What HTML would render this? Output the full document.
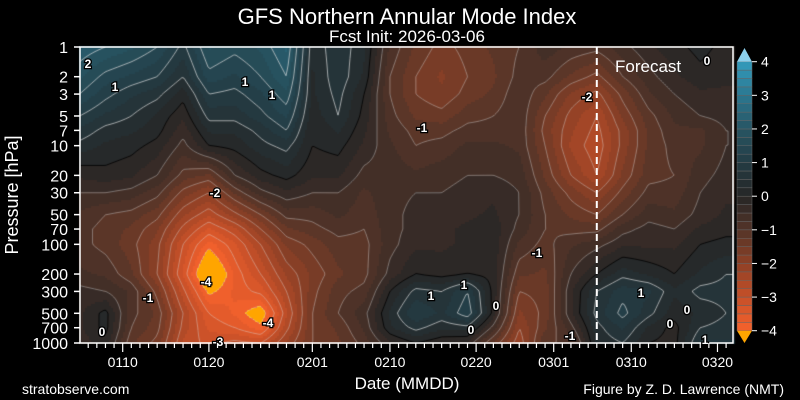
<!DOCTYPE html>
<html><head><meta charset="utf-8"><style>
html,body{margin:0;padding:0;background:#000;}
#wrap{position:relative;width:800px;height:400px;overflow:hidden;background:#000;font-family:"Liberation Sans",sans-serif;}
canvas,svg{position:absolute;left:0;top:0;}
</style></head><body>
<div id="wrap">
<canvas id="cv" width="800" height="400"></canvas>
<svg id="sv" width="800" height="400"></svg>
</div>
<script>
const days=[5,8,11,14,17,20,23,26,29,32,35,38,41,44,47,50,53,56,59,62,65,68,71,74,77,80,83];
const levels=[1,2,3,5,7,10,20,30,50,70,100,200,300,500,700,1000];
const namByDay=[
[2.2,1.8,1.5,1.0,0.7,0.4,-0.2,-0.5,-0.8,-0.9,-0.9,-0.7,-0.4,-0.3,-0.3,-0.4],
[2.0,1.4,1.1,0.7,0.4,0.2,-0.1,-0.5,-1.0,-1.1,-1.1,-0.8,-0.5,0.1,0.1,-0.1],
[1.8,1.2,0.8,0.5,0.3,0.1,-0.2,-0.6,-1.1,-1.3,-1.4,-1.2,-0.8,-0.9,-1.0,-1.2],
[1.5,1.0,0.6,0.2,0.1,-0.1,-0.5,-0.9,-1.4,-1.7,-1.9,-2.0,-1.6,-1.3,-1.4,-1.6],
[0.9,0.5,0.1,-0.2,-0.4,-0.6,-1.1,-1.6,-2.2,-2.6,-3.0,-3.3,-2.9,-2.5,-2.6,-2.8],
[1.8,1.4,1.0,0.6,0.3,0.0,-1.3,-2.0,-2.7,-3.3,-3.9,-4.7,-4.1,-3.5,-3.3,-3.1],
[1.6,1.2,0.9,0.6,0.3,0.1,-0.5,-1.2,-2.1,-2.8,-3.3,-3.7,-3.7,-3.8,-3.5,-2.9],
[1.8,1.5,1.2,0.9,0.6,0.4,-0.1,-0.6,-1.5,-2.0,-2.5,-3.0,-3.4,-4.3,-3.9,-3.0],
[2.3,2.0,1.7,1.3,1.0,0.6,0.1,-0.3,-0.9,-1.3,-1.7,-2.2,-2.5,-2.8,-2.6,-2.2],
[0.3,0.2,0.2,0.1,0.0,0.0,-0.2,-0.5,-0.9,-1.1,-1.4,-1.7,-1.6,-1.5,-1.5,-1.5],
[0.7,0.7,0.6,0.5,0.3,0.1,-0.2,-0.5,-0.7,-0.9,-1.1,-1.3,-1.1,-1.0,-1.2,-1.3],
[0.3,0.2,0.0,-0.1,-0.2,-0.3,-0.6,-0.8,-0.9,-1.0,-1.1,-1.1,-0.9,-0.6,-0.7,-0.9],
[-0.8,-1.0,-1.0,-0.9,-0.8,-0.7,-0.6,-0.6,-0.6,-0.6,-0.6,-0.4,0.0,0.3,0.2,-0.3],
[-1.3,-1.5,-1.5,-1.3,-1.1,-1.0,-0.7,-0.5,-0.4,-0.4,-0.3,0.0,0.6,1.0,0.6,0.0],
[-1.6,-1.8,-1.7,-1.4,-1.1,-0.9,-0.6,-0.5,-0.4,-0.3,-0.3,-0.1,0.5,0.7,0.3,-0.2],
[-1.4,-1.5,-1.4,-1.1,-0.9,-0.7,-0.5,-0.4,-0.3,-0.2,-0.2,0.0,1.0,1.2,0.4,-0.3],
[-1.2,-1.3,-1.2,-1.0,-0.9,-0.7,-0.5,-0.3,-0.2,-0.1,-0.1,-0.1,-0.1,-0.1,-0.6,-1.3],
[-1.0,-0.9,-0.8,-0.8,-0.8,-0.8,-0.6,-0.5,-0.5,-0.6,-0.8,-1.2,-1.5,-1.8,-2.0,-2.2],
[-0.6,-0.9,-1.2,-1.5,-1.6,-1.5,-1.3,-1.1,-1.0,-1.0,-1.1,-1.3,-1.4,-1.4,-1.3,-1.0],
[-0.8,-1.3,-1.8,-2.1,-2.2,-2.3,-2.0,-1.6,-1.3,-1.1,-0.8,-0.5,-0.3,-0.3,-0.6,-1.0],
[-0.9,-1.6,-2.1,-2.5,-2.6,-2.7,-2.5,-2.0,-1.5,-1.1,-0.6,0.0,0.5,0.6,0.4,0.3],
[-0.6,-1.0,-1.4,-1.7,-1.9,-1.9,-1.7,-1.4,-1.0,-0.6,-0.3,0.4,0.9,1.1,0.8,0.5],
[-0.3,-0.6,-0.8,-1.1,-1.2,-1.2,-1.1,-0.9,-0.6,-0.4,-0.3,0.2,0.8,0.6,0.2,0.0],
[-0.1,-0.3,-0.5,-0.7,-0.8,-0.9,-1.0,-0.9,-0.7,-0.5,-0.3,0.0,0.3,0.1,-0.1,-0.1],
[0.1,-0.1,-0.3,-0.5,-0.8,-0.8,-0.6,-0.5,-0.4,-0.2,0.0,0.3,0.6,0.3,0.5,0.8],
[-0.1,-0.2,-0.3,-0.4,-0.5,-0.5,-0.4,-0.3,-0.2,-0.1,0.1,0.5,0.6,0.5,0.6,0.8],
[-0.1,-0.2,-0.3,-0.4,-0.5,-0.5,-0.4,-0.3,-0.2,-0.1,0.1,0.5,0.6,0.5,0.6,0.8]
];
const xTickDays=[10,20,32,41,51,60,69,79];
const xTickLabels=["0110","0120","0201","0210","0220","0301","0310","0320"];
const yTickLabels=["1","2","3","5","7","10","20","30","50","70","100","200","300","500","700","1000"];
const cbarTicks=[4,3,2,1,0,-1,-2,-3,-4];
const forecastDay=65;

const L=80,R=733,T=47,B=343;
function xS(d){return 122.7+(d-10)*8.62;}
function yS(p){return T+Math.log10(p)*(B-T)/3;}
function xInv(x){return 10+(x-122.7)/8.62;}
function yInvLog(y){return (y-T)*3/(B-T);}
const stops=[[-4,[246,98,44]],[-3,[198,80,40]],[-2,[142,64,38]],[-1,[84,52,40]],[0,[38,38,38]],[1,[36,60,68]],[2,[39,85,99]],[3,[43,119,144]],[4,[51,155,189]]];
function col(v){
  if(v>4)return 'rgb(140,208,236)';
  if(v<-4)return 'rgb(255,165,0)';
  let q=Math.floor(v*4)/4+0.125; q=Math.max(-4,Math.min(4,q));
  for(let i=0;i<stops.length-1;i++){if(q<=stops[i+1][0]){const t=(q-stops[i][0]);const a=stops[i][1],b=stops[i+1][1];return 'rgb('+a.map((c,j)=>Math.round(c+(b[j]-c)*t)).join(',')+')';}}
  return 'rgb(51,155,189)';
}
const lls=levels.map(p=>Math.log10(p));
function val(x,y){
  const d=Math.max(days[0],Math.min(days[days.length-1],xInv(x)));
  let i=0;while(i<days.length-2&&d>days[i+1])i++;
  const tx=(d-days[i])/(days[i+1]-days[i]);
  const lp=Math.max(0,Math.min(3,yInvLog(y)));
  let j=0;while(j<lls.length-2&&lp>lls[j+1])j++;
  const ty=(lp-lls[j])/(lls[j+1]-lls[j]);
  const a=namByDay[i][j],b=namByDay[i+1][j],c=namByDay[i][j+1],e=namByDay[i+1][j+1];
  return a*(1-tx)*(1-ty)+b*tx*(1-ty)+c*(1-tx)*ty+e*tx*ty;
}
const cv=document.getElementById('cv');const ctx=cv.getContext('2d');
const S=2;const nx=Math.ceil((R-L)/S)+1,ny=Math.ceil((B-T)/S)+1;
const G=[];
for(let j=0;j<ny;j++){G[j]=[];for(let i=0;i<nx;i++){G[j][i]=val(L+i*S,T+j*S);}}
for(let j=0;j<ny;j++)for(let i=0;i<nx;i++){ctx.fillStyle=col(G[j][i]);ctx.fillRect(L+i*S-1,T+j*S-1,S,S);}
ctx.save();ctx.beginPath();ctx.rect(L,T,R-L,B-T);ctx.clip();
for(let lv=-4;lv<=4;lv+=0.5){
  ctx.beginPath();
  for(let j=0;j<ny-1;j++)for(let i=0;i<nx-1;i++){
    const v=[G[j][i],G[j][i+1],G[j+1][i+1],G[j+1][i]];
    const px=[[0,0],[1,0],[1,1],[0,1]];
    const pts=[];
    for(let k=0;k<4;k++){const a=v[k],b=v[(k+1)%4];if((a<lv)!==(b<lv)){const t=(lv-a)/(b-a);const p0=px[k],p1=px[(k+1)%4];pts.push([L+(i+p0[0]+(p1[0]-p0[0])*t)*S,T+(j+p0[1]+(p1[1]-p0[1])*t)*S]);}}
    for(let k=0;k+1<pts.length;k+=2){ctx.moveTo(pts[k][0],pts[k][1]);ctx.lineTo(pts[k+1][0],pts[k+1][1]);}
  }
  if(lv===0){ctx.strokeStyle='rgba(0,0,0,0.9)';}
  else if(lv>0){ctx.strokeStyle='rgba(225,225,225,0.75)';}
  else{ctx.strokeStyle='rgba(220,220,220,0.45)';}
  ctx.lineWidth=0.9;ctx.stroke();
}
ctx.restore();

const NS='http://www.w3.org/2000/svg';const sv=document.getElementById('sv');
function el(tag,attrs,txt){const e=document.createElementNS(NS,tag);for(const k in attrs)e.setAttribute(k,attrs[k]);if(txt!==undefined)e.textContent=txt;sv.appendChild(e);return e;}
let e;
e=el('line',{x1:xS(forecastDay),x2:xS(forecastDay),y1:T,y2:B,stroke:'#fff','stroke-width':2,'stroke-dasharray':'7,4'});

e=el('text',{x:615,y:72,fill:'#fff','font-size':17},'Forecast');

e=el('rect',{x:L,y:T,width:R-L,height:B-T,fill:'none',stroke:'#fff','stroke-width':1.5});

const cl=[[88,64,'2'],[115,87,'1'],[245,82,'1'],[272,95,'1'],[215,193,'-2'],[206,282,'-4'],[268,323,'-4'],[218,342,'-3'],[148,298,'-1'],[102,332,'0'],[422,128,'-1'],[587,97,'-2'],[431,296,'1'],[464,285,'1'],[496,306,'0'],[471,330,'0'],[537,253,'-1'],[570,336,'-1'],[641,293,'1'],[687,310,'0'],[670,324,'0'],[707,61,'0'],[705,340,'1']];
cl.forEach(c=>{e=el('text',{x:c[0],y:c[1]+4,fill:'#fff',stroke:'#000','stroke-width':2.5,'paint-order':'stroke','font-size':12,'font-weight':'bold','text-anchor':'middle'},c[2]);
});
levels.forEach((p,k)=>{const y=yS(p);
 e=el('line',{x1:L-6,x2:L,y1:y,y2:y,stroke:'#fff','stroke-width':1.5});
 e=el('text',{x:L-12,y:y+6,fill:'#fff','font-size':16,'text-anchor':'end'},yTickLabels[k]);});
for(let d=6;d<=81;d++){const x=xS(d);if(x<L||x>R)continue;const maj=xTickDays.indexOf(d)>=0;
 e=el('line',{x1:x,x2:x,y1:B,y2:B+(maj?9:5),stroke:'#fff','stroke-width':1.2});}
xTickDays.forEach((d,k)=>{e=el('text',{x:xS(d),y:367,fill:'#fff','font-size':14,'text-anchor':'middle'},xTickLabels[k]);});
const cx=737,cw=15;function cy(v){return 330.7-(v+4)*(330.7-61.7)/8;}
for(let v=-4;v<4;v+=0.25){e=el('rect',{x:cx,y:cy(v+0.25),width:cw,height:cy(v)-cy(v+0.25),fill:col(v+0.125),stroke:'#666','stroke-width':0.5});}
e=el('polygon',{points:`${cx},${cy(4)} ${cx+cw},${cy(4)} ${cx+cw/2},48`,fill:'rgb(140,208,236)'});
e=el('polygon',{points:`${cx},${cy(-4)} ${cx+cw},${cy(-4)} ${cx+cw/2},343`,fill:'rgb(255,165,0)'});
cbarTicks.forEach(v=>{e=el('line',{x1:cx+cw,x2:cx+cw+5,y1:cy(v),y2:cy(v),stroke:'#fff'});
 e=el('text',{x:cx+cw+9,y:cy(v)+5,fill:'#fff','font-size':14},v<0?'\u2212'+(-v):String(v));});
e=el('text',{x:407,y:24,fill:'#fff','font-size':22,'text-anchor':'middle'},'GFS Northern Annular Mode Index');
e=el('text',{x:407,y:42,fill:'#fff','font-size':17,'text-anchor':'middle'},'Fcst Init: 2026-03-06');
e=el('text',{x:0,y:0,fill:'#fff','font-size':18,'text-anchor':'middle',transform:'translate(18,195) rotate(-90)'},'Pressure [hPa]');
e=el('text',{x:407,y:389,fill:'#fff','font-size':17,'text-anchor':'middle'},'Date (MMDD)');
e=el('text',{x:22,y:394,fill:'#fff','font-size':14},'stratobserve.com');
e=el('text',{x:784,y:394,fill:'#fff','font-size':14,'text-anchor':'end'},'Figure by Z. D. Lawrence (NMT)');
</script>
</body></html>
